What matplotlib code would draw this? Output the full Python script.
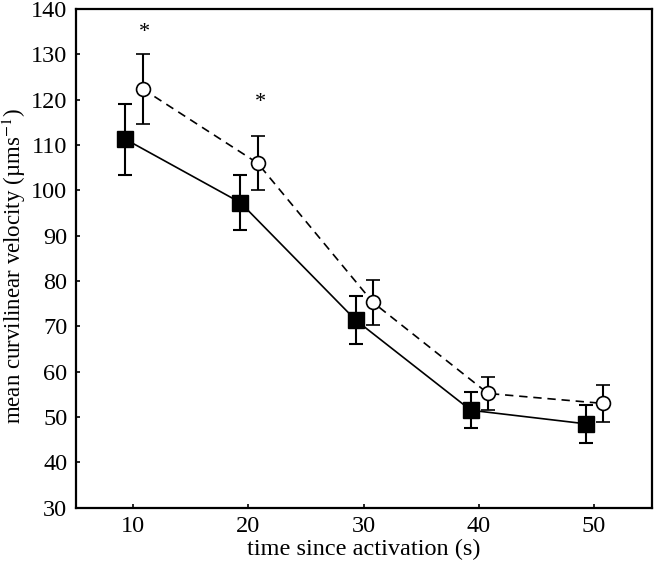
import numpy as np
import matplotlib
matplotlib.use('Agg')
import matplotlib.pyplot as plt

plt.rcParams['font.family'] = ['Liberation Serif', 'DejaVu Serif']
plt.rcParams['mathtext.fontset'] = 'stix'

# data
time_s = [10, 20, 30, 40, 50]
filled_mean = [111.3, 97.3, 71.4, 51.5, 48.5]
filled_err = [7.8, 6.0, 5.3, 4.0, 4.2]
open_mean = [122.4, 106.0, 75.3, 55.2, 53.0]
open_err = [7.7, 6.0, 5.0, 3.7, 4.1]
star_at = [0, 1]      # indices of the open series marked with *
star_y = [134.8, 119.3]

x_f = np.array(time_s) - 0.7
x_o = np.array(time_s) + 0.8

fig = plt.figure(figsize=(6.56, 5.66), dpi=100)
ax = fig.add_axes([0.1154, 0.103, 0.8780, 0.881])

ax.plot(x_o, open_mean, color='black', lw=1.2, ls=(0, (5, 3.5)), zorder=1)
ax.errorbar(x_o, open_mean, yerr=open_err, fmt='o', mfc='white', mec='black',
            mew=1.2, ms=10, ecolor='black', elinewidth=1.5, capsize=5,
            capthick=1.5, zorder=3)

ax.plot(x_f, filled_mean, color='black', lw=1.2, zorder=1)
ax.errorbar(x_f, filled_mean, yerr=filled_err, fmt='s', mfc='black', mec='black',
            ms=11, ecolor='black', elinewidth=1.5, capsize=5, capthick=1.5,
            zorder=3)

for i, sy in zip(star_at, star_y):
    ax.text(x_o[i] + 0.2, sy, '*', ha='center', va='center', fontsize=16,
            fontweight='light')

ax.set_xlim(5, 55)
ax.set_ylim(30, 140)
ax.set_xticks(time_s)
ax.set_yticks(range(30, 141, 10))
ax.tick_params(direction='in', length=3, width=1.2, labelsize=17.5, pad=6)
for s in ax.spines.values():
    s.set_linewidth(1.6)

ax.set_xlabel('time since activation (s)', fontsize=17.5, labelpad=1)
ax.set_ylabel('mean curvilinear velocity (µms$^{-1}$)', fontsize=16.5, labelpad=0)
ax.yaxis.set_label_coords(-0.083, 0.485)

fig.savefig('out.png', dpi=100)
